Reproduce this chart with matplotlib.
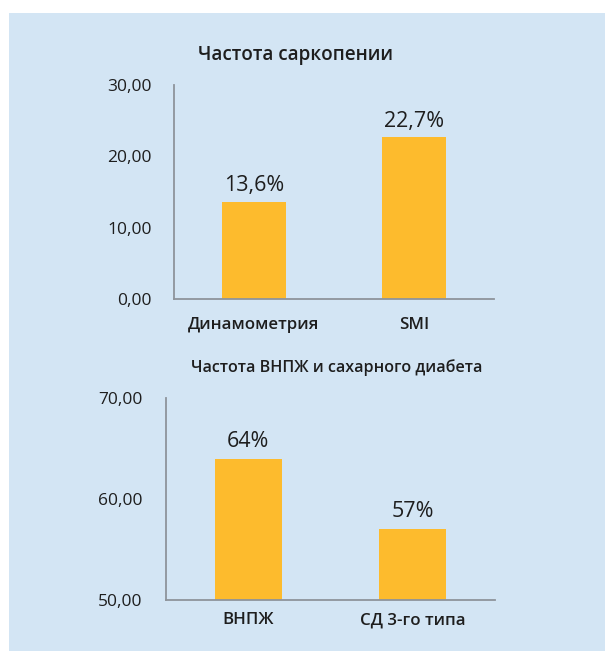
import matplotlib
matplotlib.use("Agg")
import matplotlib.pyplot as plt
from matplotlib.patches import Rectangle

# Data
cats1 = ["Динамометрия", "SMI"]
vals1 = [13.6, 22.7]
labels1 = ["13,6%", "22,7%"]
ticks1 = [0, 10, 20, 30]
title1 = "Частота саркопении"

cats2 = ["ВНПЖ", "СД 3-го типа"]
vals2 = [64, 57]
labels2 = ["64%", "57%"]
ticks2 = [50, 60, 70]
title2 = "Частота ВНПЖ и сахарного диабета"

BG = "#D3E5F4"
BAR = "#FDBB2D"
AX = "#8E949B"
TXT = "#1E1E1E"
FONT = ["Open Sans", "DejaVu Sans"]
plt.rcParams['font.family'] = FONT

W, H = 605, 651
fig = plt.figure(figsize=(W/100, H/100), dpi=100, facecolor="white")
fig.patches.append(Rectangle((9/W, 0), 1 - 9/W, 1 - 13/H, transform=fig.transFigure,
                             facecolor=BG, edgecolor="none", zorder=-10))

def fmt(v):
    return f"{v:.2f}".replace(".", ",")

def make(ax, cats, vals, labels, ticks, ylim, width, lblpad, ypad, xpad):
    ax.set_facecolor("none")
    x = list(range(len(cats)))
    bars = ax.bar(x, vals, width=width, color=BAR, zorder=2)
    ax.set_xlim(-0.5, len(cats) - 0.5)
    ax.set_ylim(*ylim)
    ax.set_yticks(ticks)
    ax.set_yticklabels([fmt(t) for t in ticks], fontsize=12.5, color=TXT)
    ax.set_xticks(x)
    ax.set_xticklabels(cats, fontsize=12.2, fontweight="semibold", color=TXT)
    ax.tick_params(axis="y", length=0, pad=ypad)
    ax.tick_params(axis="x", length=0, pad=xpad)
    for s in ["top", "right"]:
        ax.spines[s].set_visible(False)
    for s in ["left", "bottom"]:
        ax.spines[s].set_color(AX)
        ax.spines[s].set_linewidth(1.3)
    for b, l in zip(bars, labels):
        ax.annotate(l, (b.get_x() + b.get_width()/2, b.get_height()),
                    xytext=(0, lblpad), textcoords="offset points",
                    ha="center", va="bottom", fontsize=15.5, color=TXT)

ax1 = fig.add_axes([174/W, 1 - 299/H, 320/W, 214/H])
make(ax1, cats1, vals1, labels1, ticks1, (0, 30), 0.4, 4, 16, 13)
ax2 = fig.add_axes([166/W, 1 - 600/H, 329/W, 202/H])
make(ax2, cats2, vals2, labels2, ticks2, (50, 70), 0.41, 5, 17, 9)

fig.text(295/W, 1 - 55/H, title1, ha="center", va="center", fontsize=13.6,
         fontweight="semibold", color=TXT)
fig.text(337/W, 1 - 368/H, title2, ha="center", va="center", fontsize=11.6,
         fontweight="semibold", color=TXT)

fig.savefig("out.png", dpi=100, facecolor="white")
